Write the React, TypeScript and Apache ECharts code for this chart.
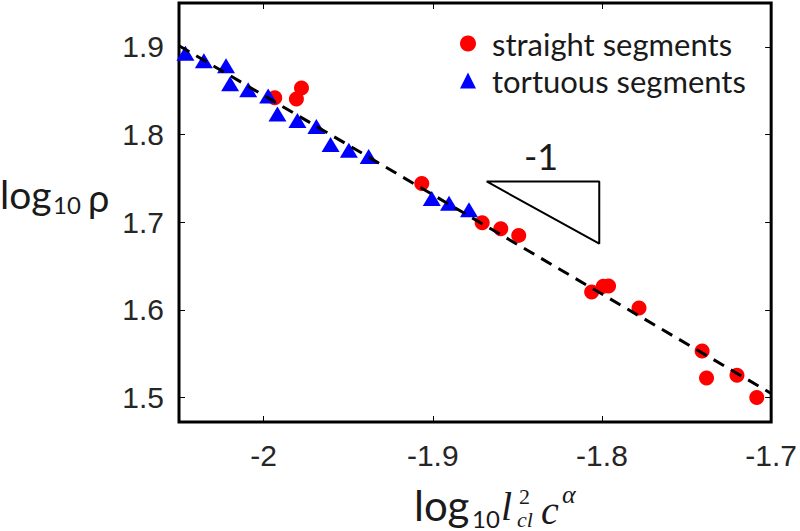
import React, { useEffect, useRef } from "react";
import * as echarts from "echarts";

// straight segments (red circles)
const straightX = [-1.9934, -1.9806, -1.9776, -1.9065, -1.8708, -1.8598, -1.8492, -1.8061, -1.7992, -1.7961, -1.7781, -1.7408, -1.7382, -1.7202, -1.7085];
const straightY = [1.842, 1.8405, 1.853, 1.744, 1.6993, 1.6925, 1.6849, 1.6203, 1.6268, 1.6271, 1.602, 1.5531, 1.5223, 1.5254, 1.5];

// tortuous segments (blue triangles)
const tortuousX = [-2.0462, -2.0353, -2.0222, -2.0198, -2.0091, -1.9973, -1.9918, -1.98, -1.9688, -1.9604, -1.9496, -1.9379, -1.9006, -1.8904, -1.8786];
const tortuousY = [1.8927, 1.884, 1.8785, 1.858, 1.851, 1.844, 1.8235, 1.816, 1.809, 1.7885, 1.782, 1.775, 1.727, 1.7215, 1.714];

// dashed fit line end points
const fitLine = [
  [-2.05, 1.9013],
  [-1.7, 1.5046],
];

// slope indicator triangle (-1)
const slopeTriangle = [
  [-1.8682, 1.7464],
  [-1.8016, 1.7464],
  [-1.8016, 1.6754],
  [-1.8682, 1.7464],
];

const xTicks = [-2, -1.9, -1.8, -1.7];
const yTicks = [1.5, 1.6, 1.7, 1.8, 1.9];
const seriesNames = ["straight segments", "tortuous segments"];

const LATO = "Lato";
const SERIF = "Liberation Serif";

export default function App() {
  const ref = useRef<HTMLDivElement>(null);
  useEffect(() => {
    const chart = echarts.init(ref.current!, null, { renderer: "svg" });
    const fmt = (v: number) => String(Math.round(v * 10) / 10);
    const tickCommon = { inside: true, length: 6, lineStyle: { color: "#000", width: 1 } };
    const labelCommon = { fontSize: 30, fontFamily: "Liberation Sans", color: "#262626" };
    const txt = (text: string, x: number, y: number, size: number, family: string, italic = false) => ({
      type: "text",
      x,
      y,
      silent: true,
      style: {
        text,
        fontSize: size,
        fontFamily: family,
        fontStyle: italic ? "italic" : "normal",
        fill: "#1a1a1a",
        align: "left",
        verticalAlign: "middle",
      },
    });
    chart.setOption({
      animation: false,
      grid: {
        left: 179,
        right: 27,
        top: 3,
        bottom: 109,
        show: true,
        borderColor: "#000",
        borderWidth: 3,
        backgroundColor: "transparent",
      },
      xAxis: [
        {
          type: "value",
          min: -2.05,
          max: -1.7,
          position: "bottom",
          axisLine: { show: false },
          splitLine: { show: false },
          axisTick: { ...tickCommon, customValues: xTicks },
          axisLabel: { ...labelCommon, margin: 18, customValues: xTicks, formatter: fmt },
        },
        {
          type: "value",
          min: -2.05,
          max: -1.7,
          position: "top",
          axisLine: { show: false },
          splitLine: { show: false },
          axisTick: { ...tickCommon, customValues: xTicks },
          axisLabel: { show: false },
        },
      ],
      yAxis: [
        {
          type: "value",
          min: 1.472,
          max: 1.95,
          position: "left",
          axisLine: { show: false },
          splitLine: { show: false },
          axisTick: { ...tickCommon, customValues: yTicks },
          axisLabel: { ...labelCommon, margin: 15, customValues: yTicks, formatter: fmt },
        },
        {
          type: "value",
          min: 1.472,
          max: 1.95,
          position: "right",
          axisLine: { show: false },
          splitLine: { show: false },
          axisTick: { ...tickCommon, customValues: yTicks },
          axisLabel: { show: false },
        },
      ],
      legend: {
        orient: "vertical",
        left: 455,
        top: 23,
        itemWidth: 16,
        itemHeight: 16,
        itemGap: 6,
        data: [
          { name: seriesNames[0], icon: "circle" },
          { name: seriesNames[1], icon: "triangle" },
        ],
        textStyle: { fontSize: 31, fontFamily: LATO, color: "#1a1a1a", padding: [0, 0, 0, 11] },
      },
      series: [
        {
          name: seriesNames[0],
          type: "scatter",
          symbol: "circle",
          symbolSize: 15,
          itemStyle: { color: "#ff0000", opacity: 1 },
          z: 2,
          data: straightX.map((x, i) => [x, straightY[i]]),
        },
        {
          name: seriesNames[1],
          type: "scatter",
          symbol: "triangle",
          symbolSize: [18, 15],
          itemStyle: { color: "#0000ff", opacity: 1 },
          z: 2,
          data: tortuousX.map((x, i) => [x, tortuousY[i]]),
        },
        {
          name: "fit",
          type: "line",
          showSymbol: false,
          silent: true,
          z: 3,
          lineStyle: { color: "#000", width: 3, type: [12, 8] },
          data: fitLine,
        },
        {
          name: "slope",
          type: "line",
          showSymbol: false,
          silent: true,
          z: 3,
          lineStyle: { color: "#000", width: 2 },
          data: slopeTriangle,
        },
      ],
      graphic: [
        txt("-1", 524, 156, 36, LATO),
        // y-axis title: log10 ρ
        txt("log", 0, 194, 39, LATO),
        txt("10", 53, 204, 24, LATO),
        txt("ρ", 88, 197, 38, LATO),
        // x-axis title: log10 l_cl^2 c^α
        txt("log", 414, 505, 42, LATO),
        txt("10", 472, 518, 24, LATO),
        txt("l", 501, 506, 40, SERIF, true),
        txt("2", 519, 496, 22, SERIF),
        txt("cl", 517, 519, 22, SERIF, true),
        txt("c", 541, 510, 40, SERIF, true),
        txt("α", 562, 494, 26, SERIF, true),
      ],
    });
    return () => chart.dispose();
  }, []);
  return <div ref={ref} style={{ position: "absolute", left: 0, top: 0, width: 800, height: 531 }} />;
}
